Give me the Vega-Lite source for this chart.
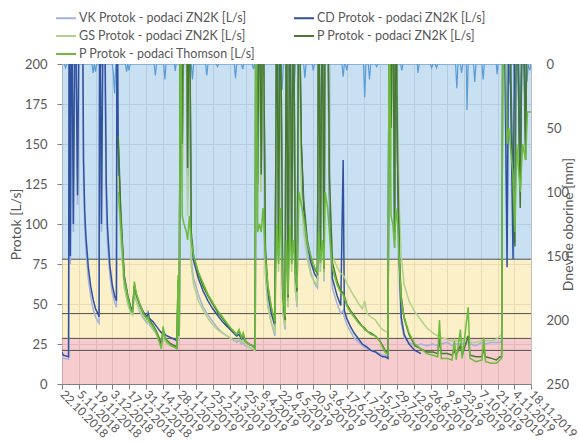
{
  "$schema": "https://vega.github.io/schema/vega-lite/v6.json",
  "width": 469,
  "height": 320,
  "autosize": {"type": "none"},
  "padding": {"left": 62, "top": 64, "right": 48, "bottom": 58},
  "background": "white",
  "config": {
    "font": "Lato",
    "view": {"stroke": "#a6a6a6"},
    "axis": {"labelFont": "Lato", "titleFont": "Lato"},
    "legend": {"labelFont": "Lato"}
  },
  "datasets": {
    "bands": [
      {"zone": "low", "lo": 0, "hi": 28.5},
      {"zone": "mid", "lo": 28.5, "hi": 78},
      {"zone": "high", "lo": 78, "hi": 200}
    ],
    "refs": [{"v": 78}, {"v": 44}, {"v": 28.5}, {"v": 21}],
    "flow": [
      {"d": 0, "VK": 18, "CD": 20},
      {"d": 1, "VK": 16, "CD": 18},
      {"d": 5.5, "VK": 15.5, "CD": 17},
      {"d": 6, "VK": 240, "CD": 260},
      {"d": 7, "VK": 75, "CD": 80},
      {"d": 8, "VK": 240, "CD": 260},
      {"d": 9.5, "VK": 95, "CD": 100},
      {"d": 11, "VK": 240, "CD": 260},
      {"d": 13, "VK": 112, "CD": 118},
      {"d": 14.5, "VK": 240, "CD": 260},
      {"d": 17, "VK": 240, "CD": 260},
      {"d": 18, "VK": 125, "CD": 140},
      {"d": 19, "VK": 98, "CD": 108},
      {"d": 20, "VK": 84, "CD": 92},
      {"d": 22, "VK": 66, "CD": 73},
      {"d": 24, "VK": 55, "CD": 61},
      {"d": 26, "VK": 47, "CD": 53},
      {"d": 28, "VK": 42, "CD": 47},
      {"d": 30, "VK": 39, "CD": 44},
      {"d": 31, "VK": 38, "CD": 42},
      {"d": 31.5, "VK": 240, "CD": 260},
      {"d": 33, "VK": 95, "CD": 100},
      {"d": 34.5, "VK": 240, "CD": 260},
      {"d": 36, "VK": 190, "CD": 210},
      {"d": 37, "VK": 112, "CD": 125},
      {"d": 38, "VK": 88, "CD": 98},
      {"d": 40, "VK": 68, "CD": 74},
      {"d": 42, "VK": 57, "CD": 62},
      {"d": 44, "VK": 51, "CD": 55},
      {"d": 45.5, "VK": 48, "CD": 52},
      {"d": 46, "VK": 240, "CD": 260},
      {"d": 47, "VK": 140, "CD": 150, "GS": 130, "PZ": 155, "PT": 120},
      {"d": 49, "VK": 95, "CD": 105, "GS": 92, "PZ": 110, "PT": 100},
      {"d": 52, "VK": 62, "CD": 68, "GS": 60, "PZ": 66, "PT": 66},
      {"d": 55, "VK": 50, "CD": 55, "GS": 50, "PZ": 55, "PT": 54},
      {"d": 57.5, "VK": 45, "CD": 48, "GS": 44, "PZ": 47, "PT": 46},
      {"d": 59, "VK": 44, "CD": 47, "GS": 43, "PZ": 46, "PT": 45},
      {"d": 60.5, "VK": 57, "CD": 61, "GS": 58, "PZ": 62, "PT": 64},
      {"d": 62, "VK": 52, "CD": 56, "GS": 52, "PZ": 56, "PT": 57},
      {"d": 65, "VK": 45, "CD": 50, "GS": 46, "PZ": 49, "PT": 50},
      {"d": 68, "VK": 41, "CD": 45, "GS": 42, "PZ": 44, "PT": 44},
      {"d": 71, "VK": 38, "CD": 42, "GS": 39, "PZ": 41, "PT": 41},
      {"d": 72, "VK": 46, "CD": 44, "GS": 40, "PZ": 42, "PT": 42},
      {"d": 73, "VK": 37, "CD": 41, "GS": 38, "PZ": 40, "PT": 39},
      {"d": 76, "VK": 34, "CD": 39, "GS": 35, "PZ": 37, "PT": 36},
      {"d": 79, "VK": 31, "CD": 36, "GS": 31, "PZ": 33, "PT": 32},
      {"d": 81, "VK": 29, "CD": 34, "GS": 27, "PZ": 29, "PT": 27},
      {"d": 83, "VK": 27, "CD": 32, "GS": 23, "PZ": 25, "PT": 22},
      {"d": 84.5, "VK": 30, "CD": 33, "GS": 32, "PZ": 34, "PT": 36},
      {"d": 86, "VK": 27, "CD": 31, "GS": 27, "PZ": 29, "PT": 29},
      {"d": 88, "VK": 26, "CD": 30, "GS": 25, "PZ": 27, "PT": 26},
      {"d": 91, "VK": 25, "CD": 29, "GS": 24, "PZ": 25, "PT": 24},
      {"d": 94, "VK": 24, "CD": 28, "GS": 23, "PZ": 24, "PT": 23},
      {"d": 96, "VK": 23, "CD": 27, "GS": 22, "PZ": 23, "PT": 22},
      {"d": 97, "VK": 45, "CD": 55, "GS": 60, "PZ": 65, "PT": 68},
      {"d": 98, "VK": 27, "CD": 30, "GS": 28, "PZ": 30, "PT": 30},
      {"d": 99, "VK": 240, "CD": 260, "GS": 240, "PZ": 260, "PT": 260},
      {"d": 100.5, "VK": 130, "CD": 150, "GS": 120, "PZ": 150, "PT": 105},
      {"d": 102, "VK": 240, "CD": 260, "GS": 240, "PZ": 260, "PT": 100},
      {"d": 104, "VK": 240, "CD": 260, "GS": 240, "PZ": 260, "PT": 95},
      {"d": 105, "VK": 115, "CD": 130, "GS": 105, "PZ": 135, "PT": 90},
      {"d": 106.5, "VK": 240, "CD": 260, "GS": 240, "PZ": 260, "PT": 105},
      {"d": 108, "VK": 78, "CD": 90, "GS": 74, "PZ": 95, "PT": 90},
      {"d": 110, "VK": 66, "CD": 77, "GS": 62, "PZ": 80, "PT": 80},
      {"d": 114, "VK": 56, "CD": 66, "GS": 52, "PZ": 69, "PT": 70},
      {"d": 118, "VK": 48, "CD": 58, "GS": 46, "PZ": 61, "PT": 63},
      {"d": 122, "VK": 43, "CD": 52, "GS": 41, "PZ": 55, "PT": 56},
      {"d": 126, "VK": 39, "CD": 47, "GS": 37, "PZ": 50, "PT": 51},
      {"d": 130, "VK": 35, "CD": 43, "GS": 34, "PZ": 45, "PT": 46},
      {"d": 134, "VK": 32, "CD": 39, "GS": 32, "PZ": 41, "PT": 42},
      {"d": 138, "VK": 30, "CD": 36, "GS": 30, "PZ": 37, "PT": 38},
      {"d": 142, "VK": 28, "CD": 33, "GS": 28, "PZ": 34, "PT": 34},
      {"d": 146, "VK": 26, "CD": 30, "GS": 27, "PZ": 31, "PT": 31},
      {"d": 148, "VK": 27, "CD": 31, "GS": 28, "PZ": 33, "PT": 34},
      {"d": 150, "VK": 25, "CD": 28, "GS": 26, "PZ": 29, "PT": 29},
      {"d": 151.5, "VK": 26, "CD": 29, "GS": 27, "PZ": 31, "PT": 32},
      {"d": 153, "VK": 24, "CD": 27, "GS": 25, "PZ": 27, "PT": 27},
      {"d": 156, "VK": 23, "CD": 25, "GS": 23, "PZ": 25, "PT": 25},
      {"d": 159, "VK": 22, "CD": 24, "GS": 22, "PZ": 24, "PT": 24},
      {"d": 161.5, "VK": 21, "CD": 23, "GS": 21, "PZ": 22, "PT": 22},
      {"d": 162, "VK": 240, "CD": 260, "GS": 240, "PZ": 260, "PT": 260},
      {"d": 163.5, "VK": 110, "CD": 120, "GS": 100, "PZ": 125, "PT": 95},
      {"d": 165, "VK": 240, "CD": 260, "GS": 240, "PZ": 260, "PT": 100},
      {"d": 166.5, "VK": 120, "CD": 135, "GS": 120, "PZ": 131, "PT": 95},
      {"d": 168, "VK": 240, "CD": 260, "GS": 240, "PZ": 260, "PT": 110},
      {"d": 170, "VK": 70, "CD": 80, "GS": 68, "PZ": 85, "PT": 80},
      {"d": 172, "VK": 50, "CD": 57, "GS": 48, "PZ": 61, "PT": 62},
      {"d": 175, "VK": 38, "CD": 44, "GS": 38, "PZ": 47, "PT": 48},
      {"d": 178, "VK": 30, "CD": 36, "GS": 32, "PZ": 38, "PT": 39},
      {"d": 179.5, "VK": 240, "CD": 260, "GS": 240, "PZ": 260, "PT": 100},
      {"d": 181, "VK": 75, "CD": 80, "GS": 70, "PZ": 85, "PT": 75},
      {"d": 182.5, "VK": 240, "CD": 260, "GS": 240, "PZ": 260, "PT": 110},
      {"d": 184.5, "VK": 46, "CD": 52, "GS": 44, "PZ": 56, "PT": 58},
      {"d": 186.5, "VK": 34, "CD": 38, "GS": 36, "PZ": 40, "PT": 42},
      {"d": 187.5, "VK": 240, "CD": 260, "GS": 240, "PZ": 260, "PT": 90},
      {"d": 189, "VK": 48, "CD": 52, "GS": 48, "PZ": 54, "PT": 56},
      {"d": 190.5, "VK": 240, "CD": 260, "GS": 240, "PZ": 260, "PT": 100},
      {"d": 192, "VK": 75, "CD": 80, "GS": 70, "PZ": 82, "PT": 75},
      {"d": 193.5, "VK": 240, "CD": 260, "GS": 240, "PZ": 260, "PT": 90},
      {"d": 195, "VK": 60, "CD": 66, "GS": 58, "PZ": 70, "PT": 70},
      {"d": 196.5, "VK": 48, "CD": 52, "GS": 50, "PZ": 58, "PT": 60},
      {"d": 198, "VK": 240, "CD": 260, "GS": 240, "PZ": 260, "PT": 120},
      {"d": 200, "VK": 130, "CD": 150, "GS": 120, "PZ": 150, "PT": 112},
      {"d": 202, "VK": 100, "CD": 110, "GS": 95, "PZ": 115, "PT": 104},
      {"d": 205, "VK": 82, "CD": 88, "GS": 78, "PZ": 90, "PT": 88},
      {"d": 208, "VK": 70, "CD": 76, "GS": 68, "PZ": 79, "PT": 80},
      {"d": 211, "VK": 63, "CD": 69, "GS": 64, "PZ": 72, "PT": 73},
      {"d": 213.5, "VK": 60, "CD": 66, "GS": 62, "PZ": 69, "PT": 70},
      {"d": 214.5, "VK": 240, "CD": 260, "GS": 240, "PZ": 260, "PT": 95},
      {"d": 216, "VK": 70, "CD": 75, "GS": 70, "PZ": 78, "PT": 76},
      {"d": 217.5, "VK": 240, "CD": 260, "GS": 240, "PZ": 260, "PT": 90},
      {"d": 219, "VK": 64, "CD": 70, "GS": 66, "PZ": 72, "PT": 72},
      {"d": 220, "VK": 240, "CD": 260, "GS": 240, "PZ": 260, "PT": 120},
      {"d": 222, "VK": 240, "CD": 260, "GS": 240, "PZ": 260, "PT": 110},
      {"d": 223.5, "VK": 100, "CD": 120, "GS": 120, "PZ": 130, "PT": 95},
      {"d": 226, "VK": 60, "CD": 66, "GS": 80, "PZ": 76, "PT": 72},
      {"d": 230, "VK": 50, "CD": 55, "GS": 73, "PZ": 64, "PT": 62},
      {"d": 233, "VK": 44, "CD": 49, "GS": 69, "PZ": 58, "PT": 57},
      {"d": 235, "VK": 46, "CD": 140, "GS": 68, "PZ": 57, "PT": 56},
      {"d": 236, "VK": 42, "CD": 46, "GS": 67, "PZ": 55, "PT": 54},
      {"d": 238, "VK": 37, "CD": 41, "GS": 63, "PZ": 50, "PT": 49},
      {"d": 241, "VK": 33, "CD": 36, "GS": 59, "PZ": 46, "PT": 45},
      {"d": 244, "VK": 29, "CD": 32, "GS": 55, "PZ": 43, "PT": 42},
      {"d": 248, "VK": 26, "CD": 28, "GS": 50, "PZ": 39, "PT": 38},
      {"d": 251, "VK": 24, "CD": 25, "GS": 47, "PZ": 36, "PT": 36},
      {"d": 253, "VK": 23, "CD": 24, "GS": 52, "PZ": 35, "PT": 34},
      {"d": 255, "VK": 22, "CD": 23, "GS": 44, "PZ": 33, "PT": 33},
      {"d": 258, "VK": 21, "CD": 21, "GS": 42, "PZ": 32, "PT": 31},
      {"d": 262, "VK": 20, "CD": 20, "GS": 40, "PZ": 30, "PT": 30},
      {"d": 265.5, "VK": 19, "CD": 18, "GS": 36, "PZ": 27, "PT": 27},
      {"d": 268, "VK": 18, "CD": 17, "GS": 34, "PZ": 24, "PT": 23},
      {"d": 270, "VK": 18, "CD": 17, "GS": 33, "PZ": 21, "PT": 20},
      {"d": 272.5, "VK": 17, "CD": 16, "GS": 32, "PZ": 19, "PT": 18},
      {"d": 273.5, "VK": 240, "CD": 260, "GS": 240, "PZ": 260, "PT": 260},
      {"d": 275, "VK": 150, "CD": 160, "GS": 140, "PZ": 160, "PT": 105},
      {"d": 276.5, "VK": 240, "CD": 260, "GS": 240, "PZ": 260, "PT": 100},
      {"d": 278, "VK": 85, "CD": 95, "GS": 100, "PZ": 90, "PT": 85},
      {"d": 279, "VK": 240, "CD": 260, "GS": 240, "PZ": 260, "PT": 110},
      {"d": 280.5, "VK": 120, "CD": 140, "GS": 170, "PZ": 140, "PT": 100},
      {"d": 282, "VK": 65, "CD": 75, "GS": 110, "PZ": 80, "PT": 75},
      {"d": 283.5, "VK": 38, "CD": 42, "GS": 80, "PZ": 55, "PT": 52},
      {"d": 286, "VK": 29, "CD": 31, "GS": 62, "PZ": 41, "PT": 42},
      {"d": 290, "VK": 26, "CD": 25, "GS": 52, "PZ": 31, "PT": 32},
      {"d": 295, "VK": 24, "CD": 21, "GS": 45, "PZ": 24, "PT": 25},
      {"d": 300, "VK": 25, "CD": 19, "GS": 40, "PZ": 22, "PT": 22},
      {"d": 305, "VK": 24, "CD": null, "GS": 35, "PZ": 20, "PT": 19},
      {"d": 310, "VK": 25, "CD": null, "GS": 32, "PZ": 20, "PT": 18},
      {"d": 314, "VK": 24, "CD": null, "GS": 30, "PZ": 19, "PT": 17},
      {"d": 315.5, "VK": 25, "CD": null, "GS": 31, "PZ": 28, "PT": 40},
      {"d": 317, "VK": 25, "CD": null, "GS": 29, "PZ": 19, "PT": 16},
      {"d": 322, "VK": 26, "CD": null, "GS": 28, "PZ": 19, "PT": 16},
      {"d": 326, "VK": 24, "CD": null, "GS": 27, "PZ": 18, "PT": 15},
      {"d": 328, "VK": 25, "CD": null, "GS": 28, "PZ": 21, "PT": 27},
      {"d": 329.5, "VK": 25, "CD": null, "GS": 27, "PZ": 18, "PT": 15},
      {"d": 333, "VK": 25, "CD": null, "GS": 27, "PZ": 24, "PT": 34},
      {"d": 334.5, "VK": 25, "CD": null, "GS": 27, "PZ": 18, "PT": 16},
      {"d": 339.5, "VK": 26, "CD": null, "GS": 30, "PZ": 30, "PT": 48},
      {"d": 341, "VK": 25, "CD": null, "GS": 26, "PZ": 18, "PT": 16},
      {"d": 346, "VK": 24, "CD": null, "GS": 26, "PZ": 17, "PT": 14},
      {"d": 351, "VK": 26, "CD": null, "GS": 27, "PZ": 17, "PT": 15},
      {"d": 352.5, "VK": 26, "CD": null, "GS": 27, "PZ": 22, "PT": 29},
      {"d": 354, "VK": 25, "CD": null, "GS": 27, "PZ": 17, "PT": 14},
      {"d": 359, "VK": 26, "CD": null, "GS": 27, "PZ": 16, "PT": 13},
      {"d": 363, "VK": 26, "CD": null, "GS": 28, "PZ": 15, "PT": 13},
      {"d": 366, "VK": 26, "CD": null, "GS": 30, "PZ": 17, "PT": 15},
      {"d": 367.5, "VK": 27, "CD": null, "GS": 31, "PZ": 17, "PT": 16},
      {"d": 368.5, "VK": 240, "CD": null, "GS": 240, "PZ": 260, "PT": 260},
      {"d": 369.5, "VK": 240, "CD": 260, "GS": 240, "PZ": 260, "PT": 260},
      {"d": 372, "VK": 90, "CD": 73, "GS": 240, "PZ": 260, "PT": 150},
      {"d": 373.5, "VK": 240, "CD": 260, "GS": 240, "PZ": 260, "PT": 160},
      {"d": 377, "VK": 240, "CD": 78, "GS": 240, "PZ": 120, "PT": 130},
      {"d": 378.6, "VK": 240, "CD": 260, "GS": 240, "PZ": 86, "PT": 95},
      {"d": 380, "VK": 240, "CD": 260, "GS": 240, "PZ": 260, "PT": 150},
      {"d": 383, "VK": 240, "CD": 120, "GS": 240, "PZ": 110, "PT": 120},
      {"d": 385, "VK": 240, "CD": 260, "GS": 240, "PZ": 260, "PT": 150},
      {"d": 387.5, "VK": 240, "CD": 150, "GS": 240, "PZ": 140, "PT": 140},
      {"d": 389, "VK": 240, "CD": 260, "GS": 240, "PZ": 260, "PT": 170},
      {"d": 392, "VK": 240, "CD": 260, "GS": 240, "PZ": 260, "PT": 170}
    ],
    "rain": [
      {"d": 0, "mm": 0}, {"d": 2, "mm": 0}, {"d": 3, "mm": 3}, {"d": 4, "mm": 0},
      {"d": 25, "mm": 0}, {"d": 26, "mm": 7}, {"d": 27, "mm": 0}, {"d": 28, "mm": 6}, {"d": 29, "mm": 0},
      {"d": 31, "mm": 0}, {"d": 32, "mm": 4}, {"d": 33, "mm": 0},
      {"d": 42, "mm": 0}, {"d": 43, "mm": 8}, {"d": 44, "mm": 23}, {"d": 45, "mm": 0},
      {"d": 53, "mm": 0}, {"d": 54, "mm": 6}, {"d": 55, "mm": 0}, {"d": 56, "mm": 5}, {"d": 57, "mm": 0},
      {"d": 77, "mm": 0}, {"d": 78, "mm": 9}, {"d": 79, "mm": 0},
      {"d": 85, "mm": 0}, {"d": 86, "mm": 12}, {"d": 87, "mm": 0},
      {"d": 94, "mm": 0}, {"d": 94.5, "mm": 5.5}, {"d": 95.5, "mm": 0},
      {"d": 108, "mm": 0}, {"d": 109, "mm": 12}, {"d": 110, "mm": 0},
      {"d": 120, "mm": 0}, {"d": 121, "mm": 9}, {"d": 122, "mm": 0},
      {"d": 129, "mm": 0}, {"d": 130, "mm": 2}, {"d": 131, "mm": 0},
      {"d": 144, "mm": 0}, {"d": 145, "mm": 11}, {"d": 146, "mm": 0},
      {"d": 150, "mm": 0}, {"d": 151, "mm": 4}, {"d": 152, "mm": 0},
      {"d": 159, "mm": 0}, {"d": 160, "mm": 4}, {"d": 161, "mm": 0},
      {"d": 165, "mm": 0}, {"d": 165.5, "mm": 16}, {"d": 166.5, "mm": 0},
      {"d": 179, "mm": 0}, {"d": 180, "mm": 26}, {"d": 181, "mm": 0},
      {"d": 183, "mm": 0}, {"d": 184, "mm": 20}, {"d": 185, "mm": 0},
      {"d": 189, "mm": 0}, {"d": 190, "mm": 14}, {"d": 191, "mm": 0},
      {"d": 193, "mm": 0}, {"d": 194, "mm": 22}, {"d": 195, "mm": 0},
      {"d": 197, "mm": 0}, {"d": 198, "mm": 7}, {"d": 199, "mm": 0},
      {"d": 202, "mm": 0}, {"d": 203, "mm": 11}, {"d": 204, "mm": 0},
      {"d": 209, "mm": 0}, {"d": 210, "mm": 5}, {"d": 211, "mm": 0},
      {"d": 234, "mm": 0}, {"d": 235, "mm": 10}, {"d": 236, "mm": 0},
      {"d": 237, "mm": 0}, {"d": 238, "mm": 5}, {"d": 239, "mm": 0},
      {"d": 252, "mm": 0}, {"d": 253, "mm": 26}, {"d": 254, "mm": 0},
      {"d": 256, "mm": 0}, {"d": 257, "mm": 12}, {"d": 258, "mm": 0},
      {"d": 262, "mm": 0}, {"d": 263, "mm": 2}, {"d": 264, "mm": 0},
      {"d": 277, "mm": 0}, {"d": 278, "mm": 48}, {"d": 279, "mm": 0},
      {"d": 283, "mm": 0}, {"d": 284, "mm": 5}, {"d": 285, "mm": 0},
      {"d": 297, "mm": 0}, {"d": 297.5, "mm": 7}, {"d": 298.5, "mm": 0},
      {"d": 308, "mm": 0}, {"d": 309, "mm": 3}, {"d": 310, "mm": 0},
      {"d": 312, "mm": 0}, {"d": 313, "mm": 3}, {"d": 314, "mm": 0},
      {"d": 329, "mm": 0}, {"d": 330, "mm": 19}, {"d": 331, "mm": 0},
      {"d": 333, "mm": 0}, {"d": 334, "mm": 7}, {"d": 335, "mm": 0},
      {"d": 338, "mm": 0}, {"d": 338.5, "mm": 36}, {"d": 339.5, "mm": 0},
      {"d": 344, "mm": 0}, {"d": 345, "mm": 14}, {"d": 346, "mm": 0},
      {"d": 351, "mm": 0}, {"d": 352, "mm": 12}, {"d": 353, "mm": 0},
      {"d": 363, "mm": 0}, {"d": 363.6, "mm": 8}, {"d": 364.5, "mm": 0},
      {"d": 368, "mm": 0}, {"d": 368.6, "mm": 5}, {"d": 369.5, "mm": 0},
      {"d": 373.5, "mm": 0}, {"d": 374.5, "mm": 16}, {"d": 375.5, "mm": 0},
      {"d": 378, "mm": 0}, {"d": 378.6, "mm": 36}, {"d": 379.5, "mm": 0},
      {"d": 382, "mm": 0}, {"d": 382.8, "mm": 53}, {"d": 383.8, "mm": 0},
      {"d": 388, "mm": 0}, {"d": 388.7, "mm": 14}, {"d": 389.7, "mm": 0},
      {"d": 391, "mm": 5}, {"d": 392, "mm": 0}
    ]
  },
  "layer": [
    {
      "layer": [
        {
          "data": {"name": "bands"},
          "mark": {"type": "rect", "opacity": 0.7},
          "encoding": {
            "y": {"field": "lo", "type": "quantitative", "scale": {"domain": [0, 200], "nice": false},
              "axis": {"title": "Protok [L/s]", "values": [0, 25, 50, 75, 100, 125, 150, 175, 200], "grid": true, "gridColor": "#bdbdbd", "tickColor": "#7f7f7f", "tickSize": 5, "domainColor": "#7f7f7f", "labelFontSize": 13, "labelColor": "#595959", "labelPadding": 10, "titleFontSize": 14, "titleFontWeight": "normal", "titleColor": "#595959", "titlePadding": 1}},
            "y2": {"field": "hi"},
            "fill": {"field": "zone", "type": "nominal", "scale": {"domain": ["low", "mid", "high"], "range": ["#f4b6ba", "#fbeab0", "#b0d3ec"]}, "legend": null}
          }
        },
        {
          "data": {"name": "refs"},
          "mark": {"type": "rule", "color": "#505050", "strokeWidth": 1},
          "encoding": {
            "y": {"field": "v", "type": "quantitative", "scale": {"domain": [0, 200], "nice": false},
              "axis": {"title": "Protok [L/s]", "values": [0, 25, 50, 75, 100, 125, 150, 175, 200], "grid": true, "gridColor": "#bdbdbd", "tickColor": "#7f7f7f", "tickSize": 5, "domainColor": "#7f7f7f", "labelFontSize": 13, "labelColor": "#595959", "labelPadding": 10, "titleFontSize": 14, "titleFontWeight": "normal", "titleColor": "#595959", "titlePadding": 1}}
          }
        }
      ]
    },
    {
      "data": {"name": "rain"},
      "mark": {"type": "line", "color": "#5b9bd5", "strokeWidth": 1.2, "clip": true},
      "encoding": {
        "x": {"field": "d", "type": "quantitative", "scale": {"domain": [0, 392], "nice": false, "zero": false},
          "axis": {"title": null, "values": [0, 14, 28, 42, 56, 70, 84, 98, 112, 126, 140, 154, 168, 182, 196, 210, 224, 238, 252, 266, 280, 294, 308, 322, 336, 350, 364, 378, 392], "labelExpr": "timeFormat(datetime(2018, 9, 22 + datum.value), '%-d.%-m.%Y')", "labelAngle": 45, "labelAlign": "left", "labelBaseline": "middle", "labelOverlap": false, "labelFlush": false, "labelFontSize": 12, "labelColor": "#595959", "labelPadding": 3, "grid": true, "gridColor": "#bdbdbd", "tickColor": "#7f7f7f", "tickSize": 5, "domainColor": "#7f7f7f"}},
        "y": {"field": "mm", "type": "quantitative", "scale": {"domain": [0, 250], "reverse": true, "nice": false},
          "axis": {"orient": "right", "title": "Dnevne oborine [mm]", "values": [0, 50, 100, 150, 200, 250], "grid": false, "ticks": false, "domainColor": "#bfbfbf", "labelFontSize": 13, "labelColor": "#595959", "labelPadding": 15, "titleFontSize": 14, "titleFontWeight": "normal", "titleColor": "#595959", "titleAngle": 270, "titlePadding": 7}}
      }
    },
    {
      "data": {"name": "flow"},
      "transform": [{"fold": ["VK", "CD", "GS", "PZ", "PT"], "as": ["s", "q"]}],
      "mark": {"type": "line", "strokeWidth": 1.5, "clip": true},
      "encoding": {
        "x": {"field": "d", "type": "quantitative", "scale": {"domain": [0, 392], "nice": false, "zero": false},
          "axis": {"title": null, "values": [0, 14, 28, 42, 56, 70, 84, 98, 112, 126, 140, 154, 168, 182, 196, 210, 224, 238, 252, 266, 280, 294, 308, 322, 336, 350, 364, 378, 392], "labelExpr": "timeFormat(datetime(2018, 9, 22 + datum.value), '%-d.%-m.%Y')", "labelAngle": 45, "labelAlign": "left", "labelBaseline": "middle", "labelOverlap": false, "labelFlush": false, "labelFontSize": 12, "labelColor": "#595959", "labelPadding": 3, "grid": true, "gridColor": "#bdbdbd", "tickColor": "#7f7f7f", "tickSize": 5, "domainColor": "#7f7f7f"}},
        "y": {"field": "q", "type": "quantitative", "scale": {"domain": [0, 200], "nice": false}, "axis": null},
        "color": {"field": "s", "type": "nominal",
          "scale": {"domain": ["VK", "CD", "GS", "PZ", "PT"], "range": ["#a4b1dc", "#30529e", "#b0d28a", "#467a32", "#6cbb3c"]},
          "legend": {"title": null, "orient": "none", "direction": "horizontal", "legendX": -7, "legendY": -57, "columns": 2, "columnPadding": 34, "rowPadding": -5, "symbolType": "stroke", "symbolSize": 400, "symbolStrokeWidth": 2, "labelFontSize": 12.5, "labelColor": "#595959", "labelLimit": 400, "labelOffset": 2,
            "labelExpr": "datum.label == 'PT' ? 'P Protok - podaci Thomson [L/s]' : (datum.label == 'PZ' ? 'P' : datum.label) + ' Protok - podaci ZN2K [L/s]'"}
        }
      }
    }
  ],
  "resolve": {"scale": {"y": "independent"}}
}
